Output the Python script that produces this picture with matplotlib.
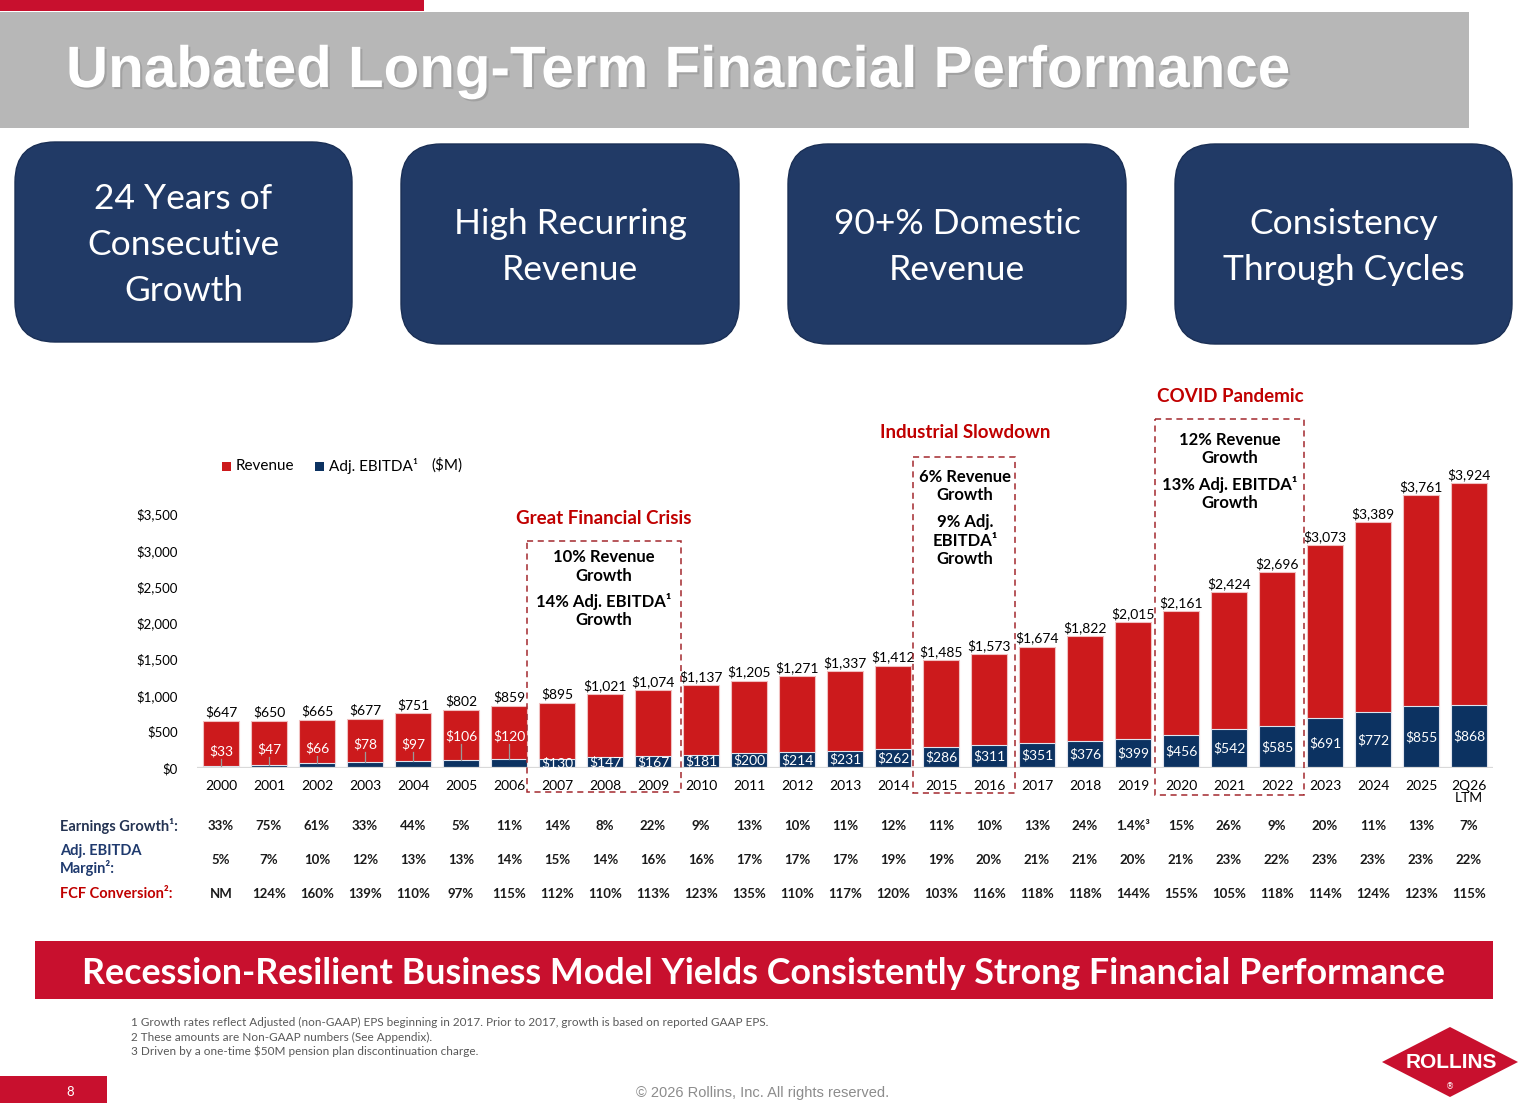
import matplotlib
matplotlib.use("Agg")
import matplotlib.pyplot as plt
from matplotlib.patches import Rectangle, FancyBboxPatch, Polygon
from matplotlib.transforms import blended_transform_factory
import matplotlib.patheffects as pe

# ---------------- data ----------------
years = ['2000', '2001', '2002', '2003', '2004', '2005', '2006', '2007', '2008', '2009',
         '2010', '2011', '2012', '2013', '2014', '2015', '2016', '2017', '2018', '2019',
         '2020', '2021', '2022', '2023', '2024', '2025', '2Q26\nLTM']
revenue = [647, 650, 665, 677, 751, 802, 859, 895, 1021, 1074,
           1137, 1205, 1271, 1337, 1412, 1485, 1573, 1674, 1822, 2015,
           2161, 2424, 2696, 3073, 3389, 3761, 3924]
ebitda = [33, 47, 66, 78, 97, 106, 120, 130, 147, 167,
          181, 200, 214, 231, 262, 286, 311, 351, 376, 399,
          456, 542, 585, 691, 772, 855, 868]
earnings_growth = ['33%', '75%', '61%', '33%', '44%', '5%', '11%', '14%', '8%', '22%',
                   '9%', '13%', '10%', '11%', '12%', '11%', '10%', '13%', '24%', '1.4%³',
                   '15%', '26%', '9%', '20%', '11%', '13%', '7%']
ebitda_margin = ['5%', '7%', '10%', '12%', '13%', '13%', '14%', '15%', '14%', '16%',
                 '16%', '17%', '17%', '17%', '19%', '19%', '20%', '21%', '21%', '20%',
                 '21%', '23%', '22%', '23%', '23%', '23%', '22%']
fcf_conversion = ['NM', '124%', '160%', '139%', '110%', '97%', '115%', '112%', '110%', '113%',
                  '123%', '135%', '110%', '117%', '120%', '103%', '116%', '118%', '118%', '144%',
                  '155%', '105%', '118%', '114%', '124%', '123%', '115%']
yticks = [0, 500, 1000, 1500, 2000, 2500, 3000, 3500]
# label heights for small EBITDA values shown above their bars (2000-2006)
small_label_y = [234, 262, 276, 331, 331, 441, 441]

RED = '#cc1a1c'
NAVY = '#0c3261'
BOXNAVY = '#213a66'
BANNER = '#c8102e'
TXTRED = '#c00000'
DASH = '#a3282e'

W, H = 1526, 1103
fig = plt.figure(figsize=(W / 100, H / 100), dpi=100)
fig.patch.set_facecolor('white')

# ---------------- chart axes ----------------
x0_px, x1_px = 197, 1493
base_px = 768
ppu = 254 / 3500.0  # pixels per $M
ymax = 4000
ax = fig.add_axes([x0_px / W, (H - base_px) / H, (x1_px - x0_px) / W, ymax * ppu / H])
ax.set_xlim(-0.5, len(years) - 0.5)
ax.set_ylim(0, ymax)
for s in ax.spines.values():
    s.set_visible(False)
ax.patch.set_alpha(0)

xs = list(range(len(years)))
ax.bar(xs, revenue, width=0.75, color=RED, edgecolor='#f0c0c0', linewidth=0.8, zorder=2)
ax.bar(xs, ebitda, width=0.75, color=NAVY, edgecolor='#dfe4ee', linewidth=0.8, zorder=3)
ax.axhline(0, color='#d9d9d9', lw=1.6, zorder=4)

ax.set_yticks(yticks)
ax.set_yticklabels([f'${v:,}' for v in yticks], fontsize=9.5, family='Lato')
ax.set_xticks(xs)
ax.set_xticklabels(years, fontsize=10, family='Lato', linespacing=1.0)
ax.tick_params(axis='y', length=0, pad=14)
ax.tick_params(axis='x', length=0, pad=8.5)

for i, (r, e) in enumerate(zip(revenue, ebitda)):
    ax.annotate(f'${r:,}', (i, r), xytext=(0, 1.5), textcoords='offset points',
                ha='center', va='bottom', fontsize=10, family='Lato', color='black', zorder=5)
    if i < len(small_label_y):
        ly = small_label_y[i]
        ax.text(i, ly, f'${e}', ha='center', va='center', fontsize=10, family='Lato',
                color='white', zorder=5)
        if ly - 110 > e + 20:
            ax.plot([i, i], [e, ly - 110], color='#9a9a9a', lw=0.9, zorder=4)
    else:
        ax.text(i, e / 2, f'${e}', ha='center', va='center', fontsize=10, family='Lato',
                color='white', zorder=5)

# ---------------- overlay (pixel coordinates) ----------------
ov = fig.add_axes([0, 0, 1, 1], zorder=10)
ov.set_xlim(0, W)
ov.set_ylim(H, 0)
ov.axis('off')
ov.patch.set_alpha(0)

# header
ov.add_patch(Rectangle((0, 0), 424, 11, color=BANNER, lw=0))
ov.add_patch(Rectangle((0, 12), 1469, 116, color='#b7b7b7', lw=0))
ov.text(66, 72, 'Unabated Long-Term Financial Performance', color='white',
        fontsize=42, fontweight='bold', family='Liberation Sans', ha='left', va='center',
        path_effects=[pe.withSimplePatchShadow(offset=(1.5, -1.5), shadow_rgbFace='#7a7a7a', alpha=0.35)])

# four boxes
boxes = [(15, 142, 337, 200, '24 Years of\nConsecutive\nGrowth'),
         (401, 144, 338, 200, 'High Recurring\nRevenue'),
         (788, 144, 338, 200, '90+% Domestic\nRevenue'),
         (1175, 144, 337, 200, 'Consistency\nThrough Cycles')]
for bx, by, bw, bh, t in boxes:
    ov.add_patch(FancyBboxPatch((bx, by), bw, bh, boxstyle='round,pad=0,rounding_size=40',
                                fc=BOXNAVY, ec='#1a2f55', lw=1))
    ov.text(bx + bw / 2, by + bh / 2 + 3, t, color='white', fontsize=25.5, family='Lato',
            ha='center', va='center', linespacing=1.55)

# legend
ov.add_patch(Rectangle((222, 462), 9, 9, color=RED, lw=0))
ov.text(236, 466.5, 'Revenue', fontsize=11, family='Lato', va='center', ha='left')
ov.add_patch(Rectangle((315, 462), 9, 9, color=NAVY, lw=0))
ov.text(329, 466.5, 'Adj. EBITDA¹', fontsize=11, family='Lato', va='center', ha='left')
ov.text(431, 465, '($M)', fontsize=11, family='Lato', va='center', ha='left')

# event boxes
def dashed_box(x0, y0, x1, y1):
    ov.add_patch(Rectangle((x0, y0), x1 - x0, y1 - y0, fill=False, ec=DASH, lw=1.1,
                           ls=(0, (4, 3))))

dashed_box(527, 541, 681, 792)
dashed_box(913, 457, 1015, 793)
dashed_box(1155, 419, 1304, 795)

ttl = dict(color=TXTRED, fontsize=13.5, fontweight='bold', family='Lato', ha='center', va='center')
ov.text(604, 519, 'Great Financial Crisis', **ttl)
ov.text(965, 433, 'Industrial Slowdown', **ttl)
ov.text(1230, 396, 'COVID Pandemic', **ttl)

bt = dict(color='black', fontsize=12, fontweight='bold', family='Lato', ha='center', va='center',
          linespacing=1.22)
ov.text(604, 566.5, '10% Revenue\nGrowth', **bt)
ov.text(604, 610.5, '14% Adj. EBITDA¹\nGrowth', **bt)
ov.text(965, 486, '6% Revenue\nGrowth', **bt)
ov.text(965, 540.5, '9% Adj.\nEBITDA¹\nGrowth', **bt)
ov.text(1230, 449, '12% Revenue\nGrowth', **bt)
ov.text(1230, 493.5, '13% Adj. EBITDA¹\nGrowth', **bt)

# table
tr = blended_transform_factory(ax.transData, ov.transData)
lab = dict(fontsize=10.5, fontweight='bold', family='Lato', ha='left', va='center')
ov.text(60, 826, 'Earnings Growth¹:', color='#243352', **lab)
ov.text(60, 860, 'Adj. EBITDA\nMargin²:', color='#1f3a6e', linespacing=1.15, **lab)
ov.text(60, 894, 'FCF Conversion²:', color=TXTRED, **lab)
val = dict(fontsize=9.5, fontweight='bold', family='Lato', ha='center', va='center',
           color='#1a1a1a', transform=tr)
for i in xs:
    ov.text(i, 826.5, earnings_growth[i], **val)
    ov.text(i, 860.5, ebitda_margin[i], **val)
    ov.text(i, 894.5, fcf_conversion[i], **val)

# bottom banner
ov.add_patch(Rectangle((35, 941), 1458, 58, color=BANNER, lw=0))
ov.text(763, 973, 'Recession-Resilient Business Model Yields Consistently Strong Financial Performance',
        color='white', fontsize=25.8, fontweight='bold', family='Lato', ha='center', va='center')

# footnotes
fn = dict(fontsize=8.5, family='Lato', color='#595959', ha='left', va='center')
ov.text(131, 1022, '1 Growth rates reflect Adjusted (non-GAAP) EPS beginning in 2017. Prior to 2017, growth is based on reported GAAP EPS.', **fn)
ov.text(131, 1037, '2 These amounts are Non-GAAP numbers (See Appendix).', **fn)
ov.text(131, 1051, '3 Driven by a one-time $50M pension plan discontinuation charge.', **fn)

# page number & copyright
ov.add_patch(Rectangle((0, 1076), 107, 27, color=BANNER, lw=0))
ov.text(70, 1092, '8', color='white', fontsize=9.5, family='Lato', ha='center', va='center')
ov.text(763, 1093, '© 2026 Rollins, Inc. All rights reserved.', color='#8c8c8c', fontsize=10.5,
        family='Liberation Sans', ha='center', va='center')

# logo
ov.add_patch(Polygon([(1382, 1062), (1450, 1027), (1518, 1062), (1450, 1097)], closed=True,
                     fc=BANNER, ec='none'))
ov.text(1451, 1062, 'ROLLINS', color='white', fontsize=15, fontweight='bold',
        family='Liberation Sans', ha='center', va='center')
ov.text(1450, 1087, '®', color='white', fontsize=6, family='DejaVu Sans', ha='center', va='center')

fig.savefig('out.png', dpi=100, facecolor='white')
